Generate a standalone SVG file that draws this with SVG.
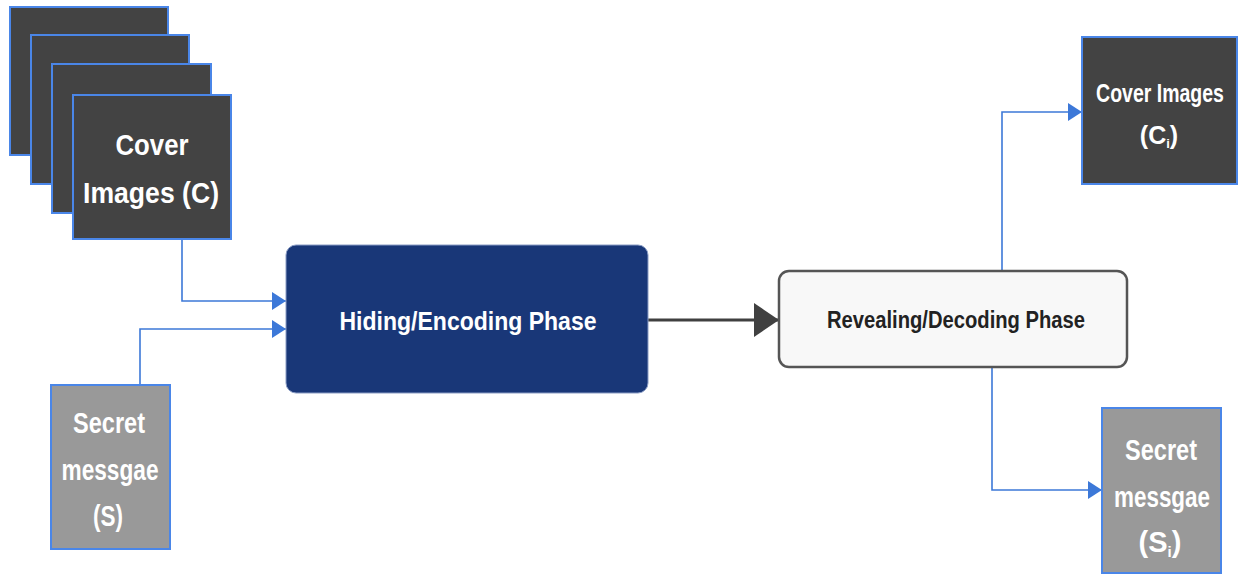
<svg xmlns="http://www.w3.org/2000/svg" width="1238" height="575" viewBox="0 0 1238 575">
<style>
.dark{fill:#434343;stroke:#4a86e8;stroke-width:2}
.grey{fill:#999999;stroke:#4a86e8;stroke-width:2}
.lbl{font-family:"Liberation Sans",Arial,sans-serif;font-weight:bold;fill:#ffffff;text-anchor:middle}
.big{font-size:29px}
.mid{font-size:25px}
.blue{fill:none;stroke:#3c78d8;stroke-width:1.6}
</style>
<defs>
<marker id="ab" markerUnits="userSpaceOnUse" markerWidth="14" markerHeight="18" refX="14" refY="9" orient="auto">
<path d="M0,0 L14,9 L0,18 Z" fill="#3c78d8"/>
</marker>
<marker id="ad" markerUnits="userSpaceOnUse" markerWidth="25" markerHeight="34" refX="25" refY="17" orient="auto">
<path d="M0,0 L25,17 L0,34 Z" fill="#404040"/>
</marker>
</defs>
<rect width="1238" height="575" fill="#ffffff"/>
<g id="connectors">
<path class="blue" d="M182,239 V301 H286" marker-end="url(#ab)"/>
<path class="blue" d="M140,385 V329 H286" marker-end="url(#ab)"/>
<path d="M648,320 H779" fill="none" stroke="#404040" stroke-width="3" marker-end="url(#ad)"/>
<path class="blue" d="M1002,271 V112 H1082" marker-end="url(#ab)"/>
<path class="blue" d="M992,367 V490 H1102" marker-end="url(#ab)"/>
</g>
<g id="cover-images">
<rect class="dark" x="10" y="7" width="158" height="148"/>
<rect class="dark" x="31" y="35" width="158" height="149"/>
<rect class="dark" x="52" y="64" width="159" height="149"/>
<rect class="dark" x="73" y="95" width="158" height="144"/>
<text class="lbl big" x="152" y="155" textLength="73" lengthAdjust="spacingAndGlyphs">Cover</text>
<text class="lbl big" x="151" y="203" textLength="136" lengthAdjust="spacingAndGlyphs">Images (C)</text>
</g>
<g id="secret-message">
<rect class="grey" x="51" y="385" width="119" height="164"/>
<text class="lbl big" x="109" y="433" textLength="72" lengthAdjust="spacingAndGlyphs">Secret</text>
<text class="lbl big" x="110" y="480" textLength="97" lengthAdjust="spacingAndGlyphs">messgae</text>
<text class="lbl big" x="108" y="526" textLength="30" lengthAdjust="spacingAndGlyphs">(S)</text>
</g>
<g id="hiding-phase">
<rect x="286" y="245" width="362" height="148" rx="10" fill="#193778" stroke="#8a9cc4" stroke-width="1"/>
<text class="lbl" x="468" y="330" font-size="25" textLength="257" lengthAdjust="spacingAndGlyphs">Hiding/Encoding Phase</text>
</g>
<g id="revealing-phase">
<rect x="779" y="271" width="348" height="96" rx="10" fill="#f8f8f8" stroke="#555555" stroke-width="2.5"/>
<text class="lbl" x="956" y="328" font-size="23" style="fill:#222222" textLength="258" lengthAdjust="spacingAndGlyphs">Revealing/Decoding Phase</text>
</g>
<g id="cover-images-out">
<rect class="dark" x="1082" y="37" width="155" height="147"/>
<text class="lbl mid" transform="translate(1160,102) scale(0.78,1)" x="0" y="0">Cover Images</text>
<text class="lbl mid" x="1159" y="144">(C<tspan font-size="13" dy="4">i</tspan><tspan dy="-4">)</tspan></text>
</g>
<g id="secret-message-out">
<rect class="grey" x="1102" y="408" width="119" height="165"/>
<text class="lbl big" x="1161" y="460" textLength="72" lengthAdjust="spacingAndGlyphs">Secret</text>
<text class="lbl big" x="1162" y="507" textLength="96" lengthAdjust="spacingAndGlyphs">messgae</text>
<text class="lbl big" x="1160" y="552">(S<tspan font-size="15" dy="5">i</tspan><tspan dy="-5">)</tspan></text>
</g>
</svg>
